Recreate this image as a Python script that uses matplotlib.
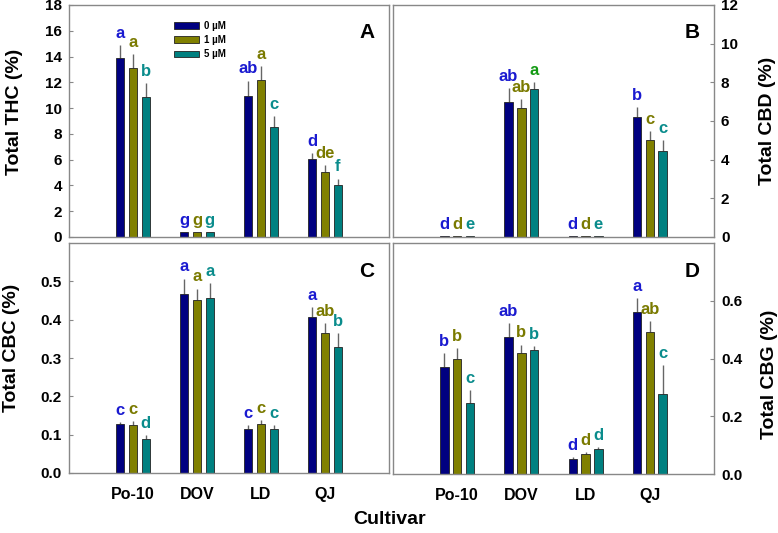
import matplotlib
matplotlib.use("Agg")
import matplotlib.pyplot as plt
import numpy as np
from matplotlib.patches import Patch

plt.rcParams['font.family'] = ['Liberation Sans', 'DejaVu Sans']
plt.rcParams['font.weight'] = 'bold'

cultivars = ["Po-10", "DOV", "LD", "QJ"]
treatments = ["0 \u00b5M", "1 \u00b5M", "5 \u00b5M"]

# Panel A: Total THC (%)
thc_0 = [13.86, 0.40, 10.93, 6.09]
thc_1 = [13.10, 0.35, 12.18, 5.08]
thc_5 = [10.85, 0.40, 8.55, 4.07]
thc_err_0 = [1.04, 0.0, 1.20, 0.40]
thc_err_1 = [1.07, 0.0, 1.10, 0.50]
thc_err_5 = [1.10, 0.0, 0.83, 0.46]
thc_let_0 = ["a", "g", "ab", "d"]
thc_let_1 = ["a", "g", "a", "de"]
thc_let_5 = ["b", "g", "c", "f"]

# Panel B: Total CBD (%)
cbd_0 = [0.05, 6.97, 0.05, 6.22]
cbd_1 = [0.05, 6.68, 0.05, 5.01]
cbd_5 = [0.05, 7.66, 0.05, 4.46]
cbd_err_0 = [0.0, 0.73, 0.0, 0.52]
cbd_err_1 = [0.0, 0.47, 0.0, 0.49]
cbd_err_5 = [0.0, 0.35, 0.0, 0.57]
cbd_let_0 = ["d", "ab", "d", "b"]
cbd_let_1 = ["d", "ab", "d", "c"]
cbd_let_5 = ["e", "a", "e", "c"]

# Panel C: Total CBC (%)
cbc_0 = [0.128, 0.467, 0.116, 0.407]
cbc_1 = [0.124, 0.452, 0.129, 0.365]
cbc_5 = [0.088, 0.457, 0.116, 0.329]
cbc_err_0 = [0.005, 0.040, 0.009, 0.025]
cbc_err_1 = [0.012, 0.029, 0.008, 0.026]
cbc_err_5 = [0.012, 0.039, 0.010, 0.036]
cbc_let_0 = ["c", "a", "c", "a"]
cbc_let_1 = ["c", "a", "c", "ab"]
cbc_let_5 = ["d", "a", "c", "b"]

# Panel D: Total CBG (%)
cbg_0 = [0.372, 0.474, 0.051, 0.560]
cbg_1 = [0.399, 0.418, 0.069, 0.491]
cbg_5 = [0.247, 0.431, 0.086, 0.278]
cbg_err_0 = [0.046, 0.050, 0.009, 0.049]
cbg_err_1 = [0.037, 0.030, 0.008, 0.040]
cbg_err_5 = [0.043, 0.012, 0.008, 0.098]
cbg_let_0 = ["b", "ab", "d", "a"]
cbg_let_1 = ["b", "b", "d", "ab"]
cbg_let_5 = ["c", "b", "d", "c"]

bar_colors = ["#000080", "#808000", "#008080"]
letter_colors = ["#1a1ad0", "#7a7a00", "#0a8c8c"]
special_green = "#139a13"

W, H = 778, 533
fig = plt.figure(figsize=(W / 100, H / 100), dpi=100)

def rect(l, t, r, b):
    return [l / W, 1 - b / H, (r - l) / W, (b - t) / H]

axA = fig.add_axes(rect(69, 5, 389, 237))
axB = fig.add_axes(rect(393, 5, 714, 237))
axC = fig.add_axes(rect(69, 243, 389, 473))
axD = fig.add_axes(rect(393, 243, 714, 474))

panels = [
    (axA, [thc_0, thc_1, thc_5], [thc_err_0, thc_err_1, thc_err_5], [thc_let_0, thc_let_1, thc_let_5],
     18, np.arange(0, 19, 2), "Total THC (%)", "left", "A", False, "{:.0f}", (15, 112)),
    (axB, [cbd_0, cbd_1, cbd_5], [cbd_err_0, cbd_err_1, cbd_err_5], [cbd_let_0, cbd_let_1, cbd_let_5],
     12, np.arange(0, 13, 2), "Total CBD (%)", "right", "B", False, "{:.0f}", (767, 121)),
    (axC, [cbc_0, cbc_1, cbc_5], [cbc_err_0, cbc_err_1, cbc_err_5], [cbc_let_0, cbc_let_1, cbc_let_5],
     0.6, np.arange(0, 0.51, 0.1), "Total CBC (%)", "left", "C", True, "{:.1f}", (12, 348)),
    (axD, [cbg_0, cbg_1, cbg_5], [cbg_err_0, cbg_err_1, cbg_err_5], [cbg_let_0, cbg_let_1, cbg_let_5],
     0.8, np.arange(0, 0.61, 0.2), "Total CBG (%)", "right", "D", True, "{:.1f}", (770, 374)),
]

x = np.arange(1, len(cultivars) + 1)
offsets = [-0.2, 0.0, 0.2]
bw = 0.13

for ax, vals, errs, lets, ymax, yticks, ylabel, side, tag, showx, fmt, lab_pos in panels:
    for i in range(3):
        xi = x + offsets[i]
        ax.bar(xi, vals[i], width=bw, color=bar_colors[i], edgecolor="#222222",
               linewidth=0.6, zorder=2, label=treatments[i])
        ax.errorbar(xi, vals[i], yerr=[np.zeros(len(errs[i])), errs[i]], fmt="none",
                    ecolor="#666666", elinewidth=1.0, capsize=0, zorder=1)
        for j in range(len(cultivars)):
            col = letter_colors[i]
            if tag == "B" and j == 1 and i == 2:
                col = special_green
            ax.annotate(lets[i][j], (xi[j], vals[i][j] + errs[i][j]), xytext=(0, 3),
                        textcoords="offset points", ha="center", va="bottom",
                        fontsize=12, fontweight="bold", color=col)
    ax.set_xlim(0, 5)
    ax.set_ylim(0, ymax)
    ax.set_yticks(yticks)
    ax.set_yticklabels([fmt.format(v) for v in yticks], fontsize=11, fontweight="bold")
    for s in ax.spines.values():
        s.set_color("#888888")
        s.set_linewidth(1.0)
    ax.tick_params(axis="y", direction="in", length=3, color="#888888", width=0.8, pad=5)
    if side == "right":
        ax.yaxis.tick_right()
        ax.tick_params(axis="y", labelright=True, labelleft=False, right=True, left=False)
    if showx:
        ax.set_xticks(x)
        ax.set_xticklabels(cultivars, fontsize=11.5, fontweight="bold")
        ax.tick_params(axis="x", length=0, pad=10)
    else:
        ax.set_xticks([])
    fig.text(lab_pos[0] / W, 1 - lab_pos[1] / H, ylabel, rotation=90, ha="center", va="center",
             fontsize=14, fontweight="bold")
    ax.text(0.955, 0.88 if tag in "AB" else 0.875, tag, transform=ax.transAxes,
            ha="right", va="center", fontsize=15, fontweight="bold")

handles = [Patch(facecolor=bar_colors[i], edgecolor="#222222", linewidth=0.6) for i in range(3)]
axA.legend(handles, treatments, loc="upper left", bbox_to_anchor=(0.3, 0.97),
           frameon=False, handlelength=2.6, handleheight=0.7,
           labelspacing=0.45, handletextpad=0.5, prop={"weight": "bold", "size": 7})

fig.text(390 / W, 1 - 519 / H, "Cultivar", ha="center", va="center",
         fontsize=14, fontweight="bold")

fig.savefig("out.png", dpi=100)
